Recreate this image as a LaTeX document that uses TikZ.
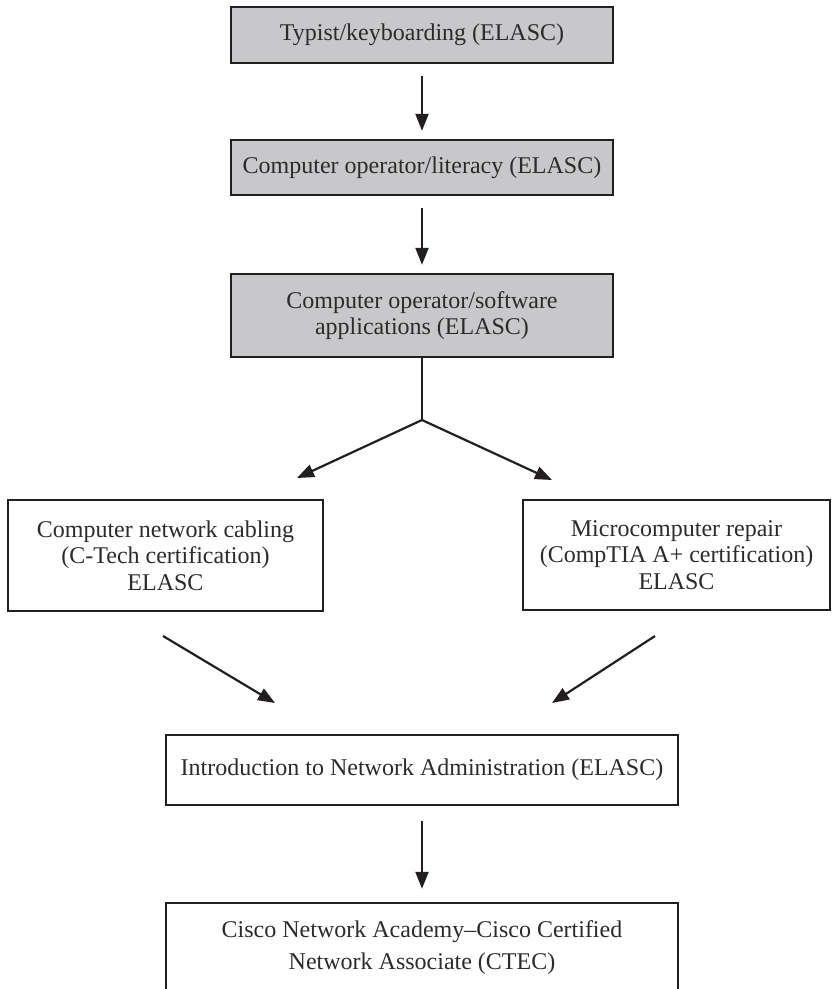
\documentclass[tikz,border=0pt]{standalone}
\usepackage{fontspec}
\setmainfont{Liberation Serif}
\usetikzlibrary{arrows.meta}
\definecolor{boxfill}{RGB}{200,200,202}
\definecolor{linec}{RGB}{35,31,32}
\definecolor{textc}{RGB}{45,42,43}
\begin{document}
\begin{tikzpicture}[x=1pt,y=-1pt,
  box/.style={draw=linec, line width=2.4pt, text=textc, align=center,
    font=\fontsize{24}{26.5}\selectfont, inner sep=0pt, anchor=center},
  gbox/.style={box, fill=boxfill},
  arr/.style={draw=linec, line width=2.2pt, -{Triangle[length=17pt,width=13pt]}},
  ln/.style={draw=linec, line width=2.2pt}]
\clip (0,0) rectangle (833,989);
\useasboundingbox (0,0) rectangle (833,989);
\node[gbox, minimum width=382pt, minimum height=56pt] (b1) at (422,35) {Typist/keyboarding (ELASC)};
\node[gbox, minimum width=382pt, minimum height=55pt] (b2) at (422,167.5) {Computer operator/literacy (ELASC)};
\node[gbox, minimum width=382pt, minimum height=83pt] (b3) at (422,315.5) {Computer operator/software\\applications (ELASC)};
\node[box, minimum width=315pt, minimum height=111pt] (l) at (165.5,555.5) {Computer network cabling\\(C-Tech certification)\\ELASC};
\node[box, minimum width=307pt, minimum height=110pt] (r) at (676.5,555) {Microcomputer repair\\(CompTIA A+ certification)\\ELASC};
\node[box, minimum width=512pt, minimum height=70pt] (intro) at (422,770) {Introduction to Network Administration (ELASC)};
\node[box, minimum width=512pt, minimum height=140pt] (cisco) at (422,973) {};
\node[text=textc, align=center, font=\fontsize{24}{32}\selectfont, inner sep=0pt] (ciscot) at (422,948) {Cisco Network Academy–Cisco Certified\\Network Associate (CTEC)};
\draw[arr, shorten <=12pt, shorten >=8pt] (b1.south) -- (b2.north);
\draw[arr, shorten <=12pt, shorten >=8pt] (b2.south) -- (b3.north);
\coordinate (split) at (422,420);
\coordinate (lt) at (297,478);
\coordinate (rt) at (552,480);
\draw[ln] (b3.south) -- (split);
\draw[arr] (split) -- (lt);
\draw[arr] (split) -- (rt);
\coordinate (ls) at (163,636);
\coordinate (lte) at (275,703);
\coordinate (rs) at (655,636);
\coordinate (rte) at (552,703);
\draw[arr] (ls) -- (lte);
\draw[arr] (rs) -- (rte);
\draw[arr, shorten <=15pt, shorten >=13pt] (intro.south) -- (cisco.north);
\end{tikzpicture}
\end{document}
